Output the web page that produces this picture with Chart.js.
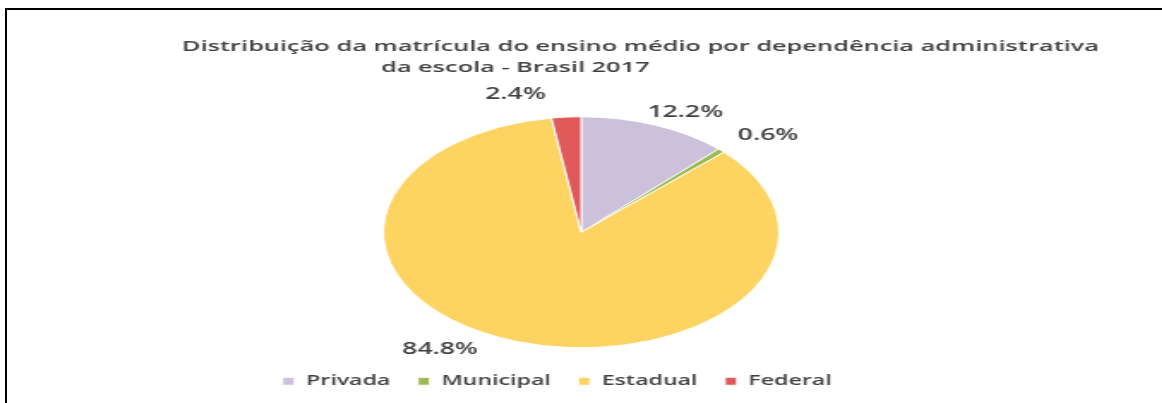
<!DOCTYPE html>
<html>
<head>
<meta charset="utf-8">
<script src="https://cdn.jsdelivr.net/npm/chart.js@4/dist/chart.umd.min.js"></script>
<style>
  html, body { margin: 0; padding: 0; background: #fff; }
  body { width: 1162px; height: 403px; position: relative; overflow: hidden; }
  #frame { position: absolute; left: 5px; top: 8px; width: 1157px; height: 395px;
           border-left: 2px solid #000; border-top: 2px solid #000; }
  #wrap { position: absolute; left: 0; top: 0; width: 674px; height: 393px;
          transform: scaleX(1.714); transform-origin: 0 0; }
</style>
</head>
<body>
<div id="frame"><div id="wrap"><canvas id="c"></canvas></div></div>
<script>
// ---- data ----
const categories = ["Privada", "Municipal", "Estadual", "Federal"];
const shares = [12.2, 0.6, 84.8, 2.4];
const titleLines = ["Distribuição da matrícula do ensino médio por dependência administrativa",
                    "da escola - Brasil 2017"];

// ---- styles ----
const colors = ["#CCC1DA", "#9BBB59", "#FDD462", "#E05A5C"];
const textColor = "#404040";
const fontFamily = "'Open Sans', 'Noto Sans', sans-serif";
// label placement: angle nudge (deg) from slice middle, gap beyond the rim (px)
const labelNudge = [5, 3.5, 16.3, -11.3];
const labelGap = [18.5, 30, 28, 27];

const pctLabels = {
  id: 'pctLabels',
  afterDatasetsDraw(chart) {
    const ctx = chart.ctx;
    const meta = chart.getDatasetMeta(0);
    ctx.save();
    ctx.font = "600 15.5px " + fontFamily;
    ctx.fillStyle = textColor;
    ctx.textAlign = "center";
    ctx.textBaseline = "middle";
    meta.data.forEach((arc, i) => {
      const p = arc.getProps(['x', 'y', 'startAngle', 'endAngle', 'outerRadius'], true);
      const mid = (p.startAngle + p.endAngle) / 2 + labelNudge[i] * Math.PI / 180;
      const r = p.outerRadius + labelGap[i];
      ctx.fillText(shares[i].toFixed(1) + "%", p.x + Math.cos(mid) * r, p.y + Math.sin(mid) * r);
    });
    ctx.restore();
  }
};

new Chart(document.getElementById('c'), {
  type: 'pie',
  data: {
    labels: categories,
    datasets: [{
      data: shares,
      backgroundColor: colors,
      borderColor: "#ffffff",
      borderWidth: 1,
      radius: 115.5
    }]
  },
  options: {
    responsive: true,
    maintainAspectRatio: false,
    animation: false,
    layout: { padding: { top: 0, bottom: 5, left: 0, right: 4 } },
    plugins: {
      tooltip: { enabled: false },
      title: {
        display: true,
        text: [" ".repeat(18) + titleLines[0], titleLines[1] + " ".repeat(20)],
        color: textColor,
        font: { family: fontFamily, size: 14.8, weight: '600', lineHeight: 1.42 },
        padding: { top: 26.5, bottom: 27.5 }
      },
      legend: {
        position: 'bottom',
        labels: {
          color: textColor,
          font: { family: fontFamily, size: 13.5, weight: '600' },
          boxWidth: 7,
          boxHeight: 8,
          padding: 16,
          generateLabels(chart) {
            const items = Chart.overrides.pie.plugins.legend.labels.generateLabels(chart);
            // trailing space keeps the legend row offset to the left, as in the original
            items[items.length - 1].text += " ".repeat(8);
            return items;
          }
        }
      }
    }
  },
  plugins: [pctLabels]
});
</script>
</body>
</html>
